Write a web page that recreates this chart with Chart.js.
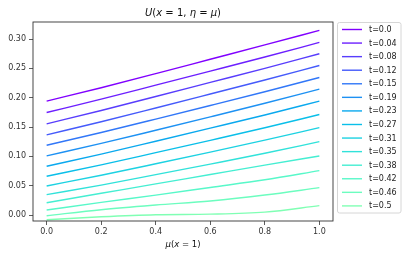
<!DOCTYPE html>
<html>
<head>
<meta charset="utf-8">
<script src="https://cdn.jsdelivr.net/npm/chart.js@4/dist/chart.umd.min.js"></script>
<style>
html,body{margin:0;padding:0;background:#fff;}
canvas{display:block;}
</style>
</head>
<body>
<canvas id="c" width="409" height="258"></canvas>
<script>
// ---- data ----
const MU = [0, 0.2, 0.4, 0.6, 0.8, 1.0];
const T_LABELS = ['t=0.0','t=0.04','t=0.08','t=0.12','t=0.15','t=0.19','t=0.23','t=0.27','t=0.31','t=0.35','t=0.38','t=0.42','t=0.46','t=0.5'];
const X_TICKS = [0.0, 0.2, 0.4, 0.6, 0.8, 1.0];
const Y_TICKS = [0.00, 0.05, 0.10, 0.15, 0.20, 0.25, 0.30];

const U_T000 = [0.1941, 0.2170, 0.2410, 0.2655, 0.2900, 0.3147];
const U_T004 = [0.1747, 0.1975, 0.2213, 0.2452, 0.2693, 0.2942];
const U_T008 = [0.1554, 0.1782, 0.2020, 0.2260, 0.2500, 0.2749];
const U_T012 = [0.1366, 0.1590, 0.1825, 0.2063, 0.2302, 0.2549];
const U_T015 = [0.1190, 0.1407, 0.1635, 0.1867, 0.2102, 0.2344];
const U_T019 = [0.1007, 0.1220, 0.1445, 0.1673, 0.1905, 0.2146];
const U_T023 = [0.0831, 0.1037, 0.1257, 0.1480, 0.1705, 0.1941];
const U_T027 = [0.0661, 0.0855, 0.1063, 0.1273, 0.1487, 0.1713];
const U_T031 = [0.0495, 0.0678, 0.0873, 0.1072, 0.1276, 0.1490];
const U_T035 = [0.0347, 0.0510, 0.0688, 0.0868, 0.1052, 0.1250];
const U_T038 = [0.0210, 0.0370, 0.0530, 0.0690, 0.0850, 0.1007];
const U_T042 = [0.0085, 0.0215, 0.0340, 0.0470, 0.0600, 0.0756];
const U_T046 = [-0.0012, 0.0090, 0.0170, 0.0240, 0.0340, 0.0466];
const U_T050 = [-0.0080, -0.0030, 0.0005, 0.0015, 0.0050, 0.0160];

const SERIES = [U_T000,U_T004,U_T008,U_T012,U_T015,U_T019,U_T023,U_T027,U_T031,U_T035,U_T038,U_T042,U_T046,U_T050];

// matplotlib 'rainbow' colormap, sampled over the first half
function rainbow(x){
  const r = Math.abs(2*x - 0.5), g = Math.sin(Math.PI*x), b = Math.cos(Math.PI*x/2);
  const c = v => Math.round(Math.max(0,Math.min(1,v))*255);
  return `rgb(${c(r)},${c(g)},${c(b)})`;
}
const COLORS = SERIES.map((_, i) => rainbow(0.5 * i / (SERIES.length - 1)));

const datasets = SERIES.map((vals, i) => ({
  label: T_LABELS[i],
  data: MU.map((x, j) => ({x: x, y: vals[j]})),
  borderColor: COLORS[i],
  backgroundColor: COLORS[i],
  borderWidth: 1.4,
  pointRadius: 0,
  fill: false,
  cubicInterpolationMode: 'monotone'
}));

const FONT = 'DejaVu Sans';
function drawMixed(ctx, segs, cx, cy, size){
  let total = 0;
  segs.forEach(s => { ctx.font = (s[1] ? 'italic ' : '') + size + 'px "' + FONT + '"'; s.w = ctx.measureText(s[0]).width; total += s.w; });
  let x = cx - total/2;
  ctx.textBaseline = 'middle'; ctx.textAlign = 'left';
  segs.forEach(s => { ctx.font = (s[1] ? 'italic ' : '') + size + 'px "' + FONT + '"'; ctx.fillText(s[0], x, cy); x += s.w; });
}

const decor = {
  id: 'decor',
  afterDraw(chart){
    const ctx = chart.ctx, a = chart.chartArea;
    ctx.save();
    // frame
    ctx.strokeStyle = '#333'; ctx.lineWidth = 0.9;
    ctx.strokeRect(a.left, a.top, a.right - a.left, a.bottom - a.top);
    // title
    ctx.fillStyle = '#111';
    const cx = (a.left + a.right)/2;
    drawMixed(ctx, [['U',1],['(',0],['x',1],[' = 1, ',0],['η',1],[' = ',0],['μ',1],[')',0]], cx, 13, 10);
    // x-axis label
    drawMixed(ctx, [['μ',1],['(',0],['x',1],[' = 1)',0]], cx, 245, 8.5);
    // legend
    const lx = 337.5, ly = 22.5, lw = 63.5, lh = 190.5, r = 2;
    ctx.beginPath();
    ctx.moveTo(lx + r, ly); ctx.lineTo(lx + lw - r, ly); ctx.quadraticCurveTo(lx+lw, ly, lx+lw, ly+r);
    ctx.lineTo(lx + lw, ly + lh - r); ctx.quadraticCurveTo(lx+lw, ly+lh, lx+lw-r, ly+lh);
    ctx.lineTo(lx + r, ly + lh); ctx.quadraticCurveTo(lx, ly+lh, lx, ly+lh-r);
    ctx.lineTo(lx, ly + r); ctx.quadraticCurveTo(lx, ly, lx+r, ly);
    ctx.closePath();
    ctx.fillStyle = 'rgba(255,255,255,0.8)'; ctx.fill();
    ctx.strokeStyle = '#d6d6d6'; ctx.lineWidth = 1; ctx.stroke();
    const step = 13.57;
    chart.data.datasets.forEach((ds, i) => {
      const y = 29.5 + i * step;
      ctx.strokeStyle = ds.borderColor; ctx.lineWidth = 1.4;
      ctx.beginPath(); ctx.moveTo(342, y); ctx.lineTo(362, y); ctx.stroke();
      ctx.fillStyle = '#222'; ctx.font = '8px "' + FONT + '"';
      ctx.textAlign = 'left'; ctx.textBaseline = 'middle';
      ctx.fillText(ds.label, 369, y + 0.5);
    });
    ctx.restore();
  }
};

new Chart(document.getElementById('c'), {
  type: 'line',
  data: { datasets },
  options: {
    responsive: false,
    animation: false,
    devicePixelRatio: 1,
    layout: { padding: { top: 22, right: 76, left: 0, bottom: 0 } },
    plugins: { legend: { display: false }, title: { display: false }, tooltip: { enabled: false } },
    scales: {
      x: {
        type: 'linear', min: -0.05, max: 1.05,
        afterFit(s){ s.height = 37; },
        afterBuildTicks(s){ s.ticks = X_TICKS.map(v => ({value: v})); },
        ticks: { color: '#333', font: { family: FONT, size: 8 }, padding: 2, maxRotation: 0, autoSkip: false,
                 callback: v => Number(v).toFixed(1) },
        grid: { drawOnChartArea: false, drawTicks: true, tickLength: 4, color: '#333', lineWidth: 0.8 },
        border: { display: false }
      },
      y: {
        type: 'linear', min: -0.0102, max: 0.329,
        afterFit(s){ s.width = 33; },
        afterBuildTicks(s){ s.ticks = Y_TICKS.map(v => ({value: v})); },
        ticks: { color: '#333', font: { family: FONT, size: 8 }, padding: 3, autoSkip: false,
                 callback: v => Number(v).toFixed(2) },
        grid: { drawOnChartArea: false, drawTicks: true, tickLength: 4, color: '#333', lineWidth: 0.8 },
        border: { display: false }
      }
    }
  },
  plugins: [decor]
});
</script>
</body>
</html>
